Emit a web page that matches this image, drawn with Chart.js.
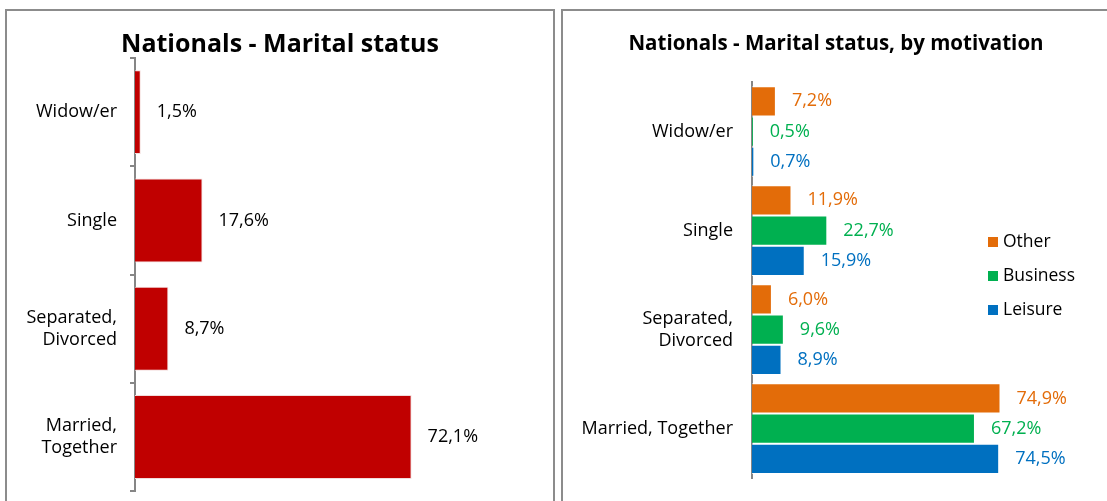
<!DOCTYPE html>
<html lang="en">
<head>
<meta charset="UTF-8">
<title>Nationals - Marital status</title>
<script src="https://cdn.jsdelivr.net/npm/chart.js"></script>
<style>
  body { margin: 0; background: #fff; overflow: hidden; font-family: "Open Sans", sans-serif; }
  .painel { position: absolute; border: 2px solid #8c8c8c; border-bottom: none; box-sizing: border-box; }
  #p1 { left: 5px; top: 9px; width: 550px; height: 492px; }
  #p2 { left: 561px; top: 9px; width: 560px; height: 492px; }
  .graf { position: absolute; top: 0; }
  /* canvases um pouco mais altos que a janela: o eixo reserva espaço para os rótulos */
  #g1 { left: 0; width: 557px; height: 515px; }
  #g2 { left: 558px; width: 549px; height: 508px; }
</style>
</head>
<body>
<div class="painel" id="p1"></div>
<div class="painel" id="p2"></div>
<div class="graf" id="g1"><canvas id="barra"></canvas></div>
<div class="graf" id="g2"><canvas id="motivo"></canvas></div>

<script>
// dados
const categories = ['Widow/er', 'Single', ['Separated,', 'Divorced'], ['Married,', 'Together']];
const categoriesMotiv = ['Widow/er', 'Single', ['Separated,', 'Divorced'], 'Married, Together'];
const nationals = [1.5, 17.6, 8.7, 72.1];
const other = [7.2, 11.9, 6.0, 74.9];
const business = [0.5, 22.7, 9.6, 67.2];
const leisure = [0.7, 15.9, 8.9, 74.5];
const xMaxLeft = 110;
const xMaxRight = 107;

const FONT = '"Open Sans", sans-serif';

function fmt(v) {
  return v.toFixed(1).replace('.', ',') + '%';
}

// rótulos de valor à direita das barras
const valueLabels = {
  id: 'valueLabels',
  afterDatasetsDraw(chart, args, opts) {
    const ctx = chart.ctx;
    ctx.save();
    ctx.font = opts.size + 'px ' + FONT;
    ctx.textBaseline = 'middle';
    ctx.textAlign = 'left';
    chart.data.datasets.forEach((ds, i) => {
      const meta = chart.getDatasetMeta(i);
      meta.data.forEach((bar, j) => {
        ctx.fillStyle = opts.color || ds.backgroundColor;
        ctx.fillText(fmt(ds.data[j]), bar.x + opts.offset, bar.y);
      });
    });
    ctx.restore();
  }
};

// legenda desenhada à mão (fica por cima da área do gráfico)
const sideLegend = {
  id: 'sideLegend',
  afterDraw(chart, args, opts) {
    const ctx = chart.ctx;
    ctx.save();
    ctx.font = opts.size + 'px ' + FONT;
    ctx.textBaseline = 'middle';
    ctx.textAlign = 'left';
    chart.data.datasets.forEach((ds, i) => {
      const y = opts.y + i * opts.gap;
      ctx.fillStyle = ds.backgroundColor;
      ctx.fillRect(opts.x, y - 5, 10, 10);
      ctx.fillStyle = '#000';
      ctx.fillText(ds.label, opts.x + 15, y);
    });
    ctx.restore();
  }
};

new Chart(document.getElementById('barra'), {
  type: 'bar',
  plugins: [valueLabels],
  data: {
    labels: categories,
    datasets: [{
      data: nationals,
      backgroundColor: '#c00000',
      borderColor: '#f2dcdb',
      borderWidth: 1,
      barPercentage: 0.775,
      categoryPercentage: 1
    }]
  },
  options: {
    indexAxis: 'y',
    responsive: true,
    maintainAspectRatio: false,
    animation: false,
    layout: { padding: { top: 0, right: 0, bottom: 0, left: 3 } },
    plugins: {
      legend: { display: false },
      tooltip: { enabled: false },
      title: {
        display: true,
        text: 'Nationals - Marital status',
        color: '#000',
        font: { family: FONT, size: 25, weight: 'bold', lineHeight: 1 },
        padding: { top: 32, bottom: 1 }
      },
      valueLabels: { size: 18, offset: 16, color: '#000' }
    },
    scales: {
      x: { display: false, min: 0, max: xMaxLeft },
      y: {
        afterFit(scale) { scale.width = 132; },
        grid: { drawOnChartArea: false, drawTicks: true, tickLength: 5, color: '#868686', lineWidth: 2 },
        border: { display: true, color: '#868686', width: 2 },
        ticks: { color: '#000', padding: 13, font: { family: FONT, size: 18 } }
      }
    }
  }
});

new Chart(document.getElementById('motivo'), {
  type: 'bar',
  plugins: [valueLabels, sideLegend],
  data: {
    labels: categoriesMotiv,
    datasets: [
      { label: 'Other', data: other, backgroundColor: '#e36c09' },
      { label: 'Business', data: business, backgroundColor: '#00b050' },
      { label: 'Leisure', data: leisure, backgroundColor: '#0070c0' }
    ]
  },
  options: {
    indexAxis: 'y',
    responsive: true,
    maintainAspectRatio: false,
    animation: false,
    datasets: { bar: { barPercentage: 1, categoryPercentage: 0.915, borderColor: 'rgba(255,255,255,0.7)', borderWidth: 1 } },
    layout: { padding: { top: 0, right: 0, bottom: 12, left: 7 } },
    plugins: {
      legend: { display: false },
      tooltip: { enabled: false },
      title: {
        display: true,
        text: 'Nationals - Marital status, by motivation',
        color: '#000',
        font: { family: FONT, size: 20.5, weight: 'bold', lineHeight: 1 },
        padding: { top: 34, bottom: 27.5 }
      },
      valueLabels: { size: 18, offset: 16 },
      sideLegend: { x: 430, y: 242, gap: 34, size: 17.5 }
    },
    scales: {
      x: { display: false, min: 0, max: xMaxRight },
      y: {
        afterFit(scale) { scale.width = 187; },
        grid: { display: false, drawTicks: false },
        border: { display: true, color: '#868686', width: 2 },
        ticks: { color: '#000', padding: 19, font: { family: FONT, size: 18 } }
      }
    }
  }
});
</script>
</body>
</html>
